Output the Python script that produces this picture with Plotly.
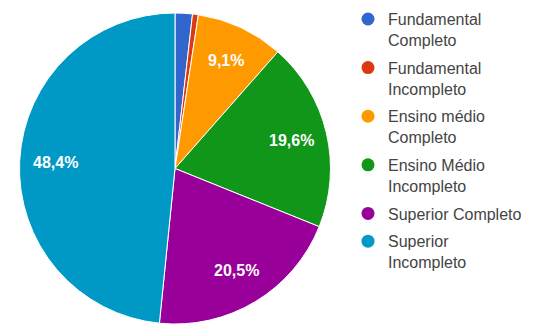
import math
import plotly.graph_objects as go

labels = ["Fundamental<br>Completo", "Fundamental<br>Incompleto", "Ensino médio<br>Completo",
          "Ensino Médio<br>Incompleto", "Superior Completo", "Superior<br>Incompleto"]
values = [1.8, 0.6, 9.1, 19.6, 20.5, 48.4]
pct_text = ["", "", "9,1%", "19,6%", "20,5%", "48,4%"]
colors = ["#3366cc", "#dc3912", "#ff9900", "#109618", "#990099", "#0099c6"]

W, H = 545, 324
cx, r = 175, 155.5
mt = 13
label_r = 0.77

fig = go.Figure()
fig.add_trace(go.Pie(
    labels=labels, values=values, sort=False, direction="clockwise", rotation=0,
    marker=dict(colors=colors, line=dict(color="white", width=1)),
    textinfo="none", showlegend=False, hoverinfo="skip",
    domain=dict(x=[(cx - r) / W, (cx + r) / W], y=[0, 1]),
))

# slice labels at mid-angle of each slice (computed from the values)
total = sum(values)
cum = 0.0
ph = H - mt
cy_px = mt + ph / 2
for v, t in zip(values, pct_text):
    mid = (cum + v / 2) / total * 2 * math.pi
    cum += v
    if not t:
        continue
    px = cx + label_r * r * math.sin(mid)
    py = cy_px - label_r * r * math.cos(mid)
    fig.add_annotation(
        x=px / W, y=(H - py) / ph, xref="paper", yref="paper",
        text="<b>" + t + "</b>", showarrow=False, xanchor="center", yanchor="middle",
        font=dict(color="white", size=16, family="Arial, Liberation Sans"),
    )

for lab, col in zip(labels, colors):
    fig.add_trace(go.Scatter(
        x=[None], y=[None], mode="markers", name=lab,
        marker=dict(symbol="circle", size=13, color=col),
        legendgroup=lab, showlegend=True,
    ))

fig.update_layout(
    width=W, height=H,
    margin=dict(l=0, r=0, t=mt, b=0),
    paper_bgcolor="white", plot_bgcolor="white",
    xaxis=dict(visible=False), yaxis=dict(visible=False),
    legend=dict(x=348 / W, y=1.035, xanchor="left", yanchor="top",
                font=dict(size=16, color="#444444", family="Arial, Liberation Sans"),
                tracegroupgap=4, itemwidth=30, bgcolor="rgba(0,0,0,0)",
                valign="top", maxheight=320),
    showlegend=True,
)

fig.write_html("out.html")
